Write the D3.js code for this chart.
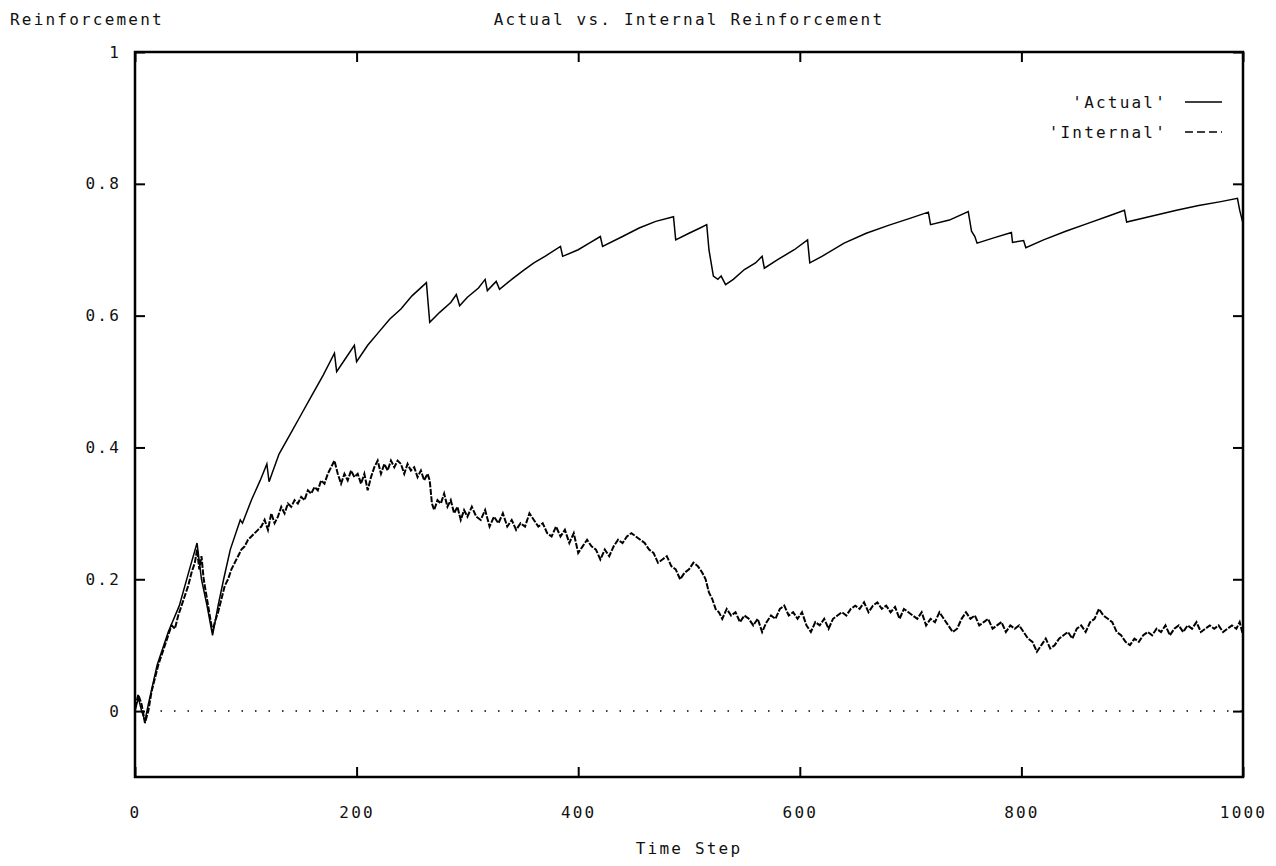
<!DOCTYPE html>
<html>
<head>
<meta charset="utf-8">
<script src="https://cdn.jsdelivr.net/npm/d3@7"></script>
<style>
  html, body { margin: 0; padding: 0; background: #fff; }
  svg { display: block; }
  text { font-family: "DejaVu Sans Mono", "Liberation Mono", monospace; font-size: 16px; letter-spacing: 2.2px; fill: #111; }
</style>
</head>
<body>
<svg id="chart" width="1276" height="866"></svg>
<script>
// ---- data ----
const xTicks = [0, 200, 400, 600, 800, 1000];
const yTicks = [0, 0.2, 0.4, 0.6, 0.8, 1];
const yTickLabels = ["0", "0.2", "0.4", "0.6", "0.8", "1"];
const seriesNames = ["'Actual'", "'Internal'"];

const actualSteps = [0,3,6,9,12,20,30,40,50,56,60,65,70,75,80,86,95,97,105,113,119,121,130,140,150,160,170,180,182,190,198,200,210,220,230,240,250,263,266,275,285,290,293,300,310,316,318,326,329,340,350,360,370,384,386,400,410,420,422,440,455,470,486,488,500,510,516,518,522,526,529,533,540,550,560,566,568,580,595,607,609,620,640,660,680,700,716,718,735,752,755,758,760,775,791,792,802,804,820,840,860,880,893,895,920,940,960,980,995,997,1000];
const actualValues = [0,0.02,0.0,-0.015,0.01,0.07,0.12,0.16,0.22,0.255,0.2,0.16,0.115,0.16,0.2,0.245,0.29,0.285,0.32,0.35,0.375,0.348,0.39,0.42,0.45,0.48,0.51,0.543,0.515,0.535,0.555,0.53,0.555,0.575,0.595,0.61,0.63,0.65,0.59,0.605,0.62,0.632,0.615,0.628,0.642,0.655,0.638,0.652,0.64,0.655,0.668,0.68,0.69,0.705,0.69,0.7,0.71,0.72,0.705,0.72,0.733,0.743,0.75,0.715,0.725,0.733,0.738,0.70,0.66,0.655,0.66,0.647,0.655,0.67,0.68,0.69,0.672,0.685,0.7,0.715,0.68,0.69,0.71,0.725,0.737,0.748,0.757,0.738,0.745,0.758,0.728,0.72,0.71,0.718,0.726,0.711,0.714,0.703,0.715,0.728,0.74,0.752,0.76,0.742,0.752,0.76,0.767,0.773,0.778,0.76,0.74];

const internalSteps = [0,3,6,9,12,15,18,21,24,27,30,33,36,39,42,45,48,51,54,56,58,60,62,64,66,68,70,72,75,78,81,84,87,90,93,96,99,102,105,108,111,114,117,120,123,126,129,132,135,138,141,144,147,150,153,156,159,162,165,168,171,174,177,180,183,186,189,192,195,198,201,204,207,210,213,216,219,222,225,228,231,234,237,240,243,246,249,252,255,258,261,264,266,268,270,273,276,279,282,285,288,291,294,297,300,304,308,312,316,320,324,328,332,336,340,344,348,352,356,360,364,368,372,376,380,384,388,392,396,400,404,408,412,416,420,424,428,432,436,440,444,448,452,456,460,464,468,472,476,480,484,488,492,496,500,504,508,512,515,518,521,524,527,530,534,538,542,546,550,554,558,562,566,570,574,578,582,586,590,594,598,602,606,610,614,618,622,626,630,634,638,642,646,650,654,658,662,666,670,674,678,682,686,690,694,698,702,706,710,714,718,722,726,730,734,738,742,746,750,754,758,762,766,770,774,778,782,786,790,794,798,802,806,810,814,818,822,826,830,834,838,842,846,850,854,858,862,866,870,874,878,882,886,890,894,898,902,906,910,914,918,922,926,930,934,938,942,946,950,954,958,962,966,970,974,978,982,986,990,994,997,1000];
const internalValues = [0.005,0.025,0.01,-0.018,0.0,0.03,0.05,0.07,0.085,0.1,0.115,0.13,0.125,0.145,0.16,0.175,0.19,0.21,0.225,0.245,0.215,0.235,0.2,0.18,0.16,0.14,0.12,0.135,0.15,0.17,0.19,0.2,0.215,0.225,0.235,0.245,0.25,0.26,0.265,0.27,0.275,0.28,0.29,0.275,0.3,0.285,0.295,0.31,0.3,0.315,0.31,0.32,0.315,0.325,0.32,0.335,0.33,0.34,0.335,0.35,0.345,0.36,0.37,0.38,0.36,0.345,0.36,0.35,0.365,0.355,0.36,0.345,0.36,0.335,0.355,0.37,0.38,0.36,0.375,0.365,0.38,0.37,0.38,0.375,0.36,0.375,0.365,0.37,0.355,0.365,0.35,0.36,0.35,0.315,0.305,0.32,0.315,0.33,0.31,0.32,0.3,0.31,0.29,0.305,0.295,0.31,0.295,0.29,0.305,0.28,0.295,0.285,0.3,0.28,0.29,0.275,0.285,0.28,0.3,0.29,0.28,0.285,0.27,0.265,0.28,0.265,0.275,0.255,0.27,0.24,0.25,0.26,0.25,0.245,0.23,0.245,0.235,0.25,0.26,0.255,0.265,0.27,0.265,0.26,0.255,0.245,0.24,0.225,0.23,0.235,0.22,0.215,0.2,0.21,0.215,0.225,0.22,0.21,0.2,0.18,0.17,0.155,0.15,0.14,0.155,0.145,0.15,0.135,0.145,0.14,0.13,0.14,0.12,0.135,0.145,0.14,0.155,0.16,0.145,0.15,0.14,0.15,0.13,0.12,0.135,0.13,0.14,0.125,0.14,0.145,0.15,0.145,0.155,0.16,0.155,0.165,0.15,0.16,0.165,0.155,0.16,0.15,0.158,0.14,0.155,0.15,0.145,0.14,0.15,0.13,0.14,0.135,0.15,0.14,0.13,0.12,0.125,0.14,0.15,0.14,0.145,0.13,0.135,0.14,0.125,0.13,0.135,0.12,0.13,0.125,0.13,0.12,0.11,0.105,0.09,0.1,0.11,0.095,0.1,0.11,0.115,0.12,0.11,0.125,0.13,0.12,0.135,0.14,0.155,0.145,0.14,0.135,0.12,0.115,0.105,0.1,0.11,0.105,0.115,0.12,0.115,0.125,0.12,0.13,0.115,0.125,0.13,0.12,0.13,0.125,0.135,0.12,0.125,0.13,0.125,0.13,0.12,0.125,0.13,0.125,0.135,0.115];

// ---- layout ----
const svg = d3.select("#chart");
const L = 135, R = 1243, T = 52, B = 777;
const x = d3.scaleLinear().domain([0, 1000]).range([L, R]);
const y = d3.scaleLinear().domain([-0.1, 1]).range([B, T]);

// zero line (dotted)
svg.append("line")
  .attr("x1", x(0)).attr("x2", x(1000))
  .attr("y1", y(0)).attr("y2", y(0))
  .attr("stroke", "#000").attr("stroke-width", 1.5)
  .attr("stroke-dasharray", "1.5,12").attr("stroke-dashoffset", -12);

// data lines
const actual = actualSteps.map((t, i) => [t, actualValues[i]]);
const internal = internalSteps.map((t, i) => [t, internalValues[i]]);
const line = d3.line().x(d => x(d[0])).y(d => y(d[1]));

svg.append("path").datum(internal)
  .attr("d", line).attr("fill", "none")
  .attr("stroke", "#000").attr("stroke-width", 2)
  .attr("stroke-dasharray", "6,1.5");

svg.append("path").datum(actual)
  .attr("d", line).attr("fill", "none")
  .attr("stroke", "#000").attr("stroke-width", 1.5);

// axes (inward ticks on all four sides)
function styleAxis(g, showLabels) {
  g.select(".domain").remove();
  g.selectAll(".tick line").attr("stroke", "#000").attr("stroke-width", 2);
  g.attr("font-family", null).attr("font-size", null);
  if (!showLabels) g.selectAll(".tick text").remove();
}
svg.append("g").attr("transform", `translate(0,${B})`)
  .call(d3.axisBottom(x).tickValues(xTicks).tickSize(-10).tickPadding(30).tickFormat(d3.format("d")))
  .call(g => styleAxis(g, true));
svg.append("g").attr("transform", `translate(0,${T})`)
  .call(d3.axisTop(x).tickValues(xTicks).tickSize(-10))
  .call(g => styleAxis(g, false));
svg.append("g").attr("transform", `translate(${L},0)`)
  .call(d3.axisLeft(y).tickValues(yTicks).tickSize(-10).tickPadding(14).tickFormat((d, i) => yTickLabels[i]))
  .call(g => styleAxis(g, true));
svg.append("g").attr("transform", `translate(${R},0)`)
  .call(d3.axisRight(y).tickValues(yTicks).tickSize(-10))
  .call(g => styleAxis(g, false));

// frame
svg.append("rect").attr("x", L).attr("y", T).attr("width", R - L).attr("height", B - T)
  .attr("fill", "none").attr("stroke", "#000").attr("stroke-width", 2.5);

// titles
svg.append("text").attr("x", 10).attr("y", 25).text("Reinforcement");
svg.append("text").attr("x", (L + R) / 2).attr("y", 25).attr("text-anchor", "middle")
  .text("Actual vs. Internal Reinforcement");
svg.append("text").attr("x", (L + R) / 2).attr("y", 854).attr("text-anchor", "middle").text("Time Step");

// legend
const legY = [102, 132];
seriesNames.forEach((name, i) => {
  svg.append("text").attr("x", 1167).attr("y", legY[i]).attr("dy", "0.35em")
    .attr("text-anchor", "end").text(name);
  svg.append("line").attr("x1", 1185).attr("x2", 1222).attr("y1", legY[i]).attr("y2", legY[i])
    .attr("stroke", "#000").attr("stroke-width", 1.4)
    .attr("stroke-dasharray", i === 0 ? null : "8,4,8,4,8,4,1.5,10");
});
</script>
</body>
</html>
